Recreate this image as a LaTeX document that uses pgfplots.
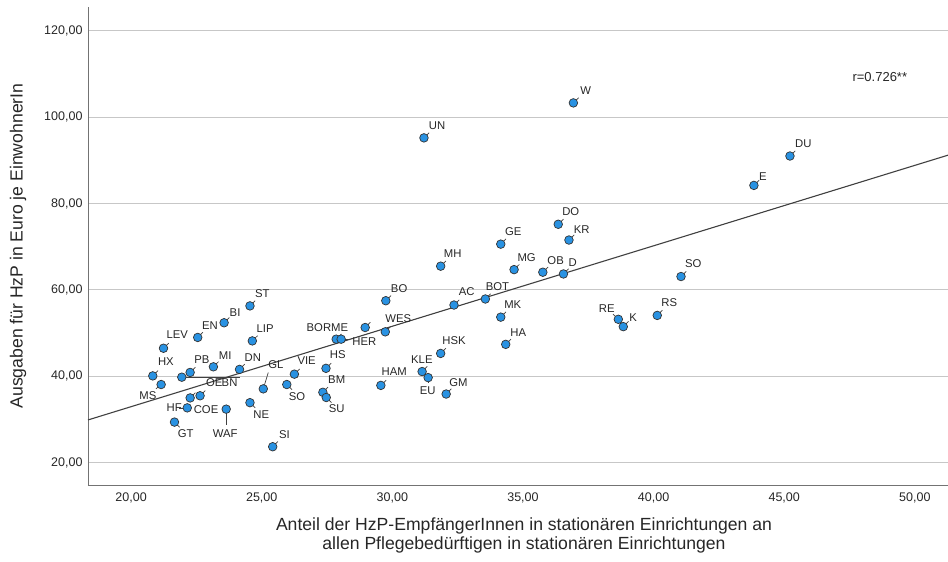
\documentclass[border=0pt]{standalone}
\usepackage{fontspec}
\setmainfont{Liberation Sans}
\usepackage{pgfplots}
\usepackage{pgfplotstable}
\pgfplotsset{compat=1.18}
\definecolor{dot}{RGB}{41,146,226}

\pgfplotstableread{
x y u v
24.55 56.3 0.2 1.2
23.56 52.4 0.2 1.2
22.55 49.0 0.2 1.2
24.64 48.2 0.2 1.2
21.24 46.5 0.2 1.2
23.15 42.2 0.2 1.2
24.15 41.6 0.2 1.2
22.26 40.9 0.2 1.2
20.83 40.1 0.2 1.2
21.94 39.8 2.23 0
21.15 38.1 -0.2 -1.0
22.26 35.0 0.2 1.2
22.64 35.5 0.2 1.2
22.15 32.7 -0.3 0
23.64 32.4 0 -3.7
21.66 29.4 0.2 -1.2
25.06 37.1 0.19 3.77
24.55 33.9 0.2 -1.2
26.25 40.5 0.2 1.2
25.96 38.1 0.2 -1.2
25.42 23.7 0.2 1.2
27.85 48.6 0.2 1.2
28.04 48.6 0.3 0
28.96 51.3 0.2 1.2
29.73 50.3 0.2 1.2
27.46 41.85 0.2 1.2
27.34 36.3 0.2 1.2
27.47 35.1 0.2 -1.2
29.56 37.9 0.2 1.2
31.14 41.1 0.2 1.2
31.37 39.7 0 -1.3
31.85 45.3 0.2 1.2
32.06 35.9 0.2 1.2
36.35 75.2 0.2 1.2
36.76 71.55 0.2 1.2
34.15 70.6 0.2 1.2
31.85 65.5 0.2 1.2
34.66 64.7 0.2 1.2
35.76 64.1 0.2 1.2
36.55 63.7 0.2 1.2
29.75 57.5 0.2 1.2
32.36 56.5 0.2 1.2
33.56 57.9 0.2 1.2
34.15 53.7 0.2 1.2
34.34 47.4 0.2 1.2
36.93 103.3 0.2 1.2
45.22 91.0 0.2 1.2
43.84 84.2 0.2 1.2
41.05 63.1 0.2 1.2
40.14 54.1 0.2 1.2
38.65 53.2 -0.2 1.2
38.84 51.5 0.2 1.2
31.21 95.2 0.2 1.2
}\pts

\begin{document}
\begin{tikzpicture}
\useasboundingbox (0pt,0pt) rectangle (948pt,562pt);
\begin{axis}[
  at={(88pt,77pt)}, anchor=south west,
  scale only axis, width=860pt, height=478pt,
  xmin=18.35, xmax=51.27, ymin=14.84, ymax=125.5,
  clip=false,
  axis x line*=bottom, axis y line*=left,
  axis line style={-, black!55, line width=0.9pt},
  every outer x axis line/.append style={-},
  every outer y axis line/.append style={-},
  every inner x axis line/.append style={-},
  every inner y axis line/.append style={-},
  xtick={20,25,30,35,40,45,50},
  ytick={20,40,60,80,100,120},
  ymajorgrids,
  grid style={black!22, line width=0.9pt},
  major tick length=0pt,
  tick label style={font=\fontsize{12.5}{14}\selectfont, text=black!85},
  /pgf/number format/fixed,
  /pgf/number format/fixed zerofill,
  /pgf/number format/precision=2,
  /pgf/number format/use comma,
  /pgf/number format/1000 sep={},
  /pgf/number format/assume math mode=true,
  xticklabel style={yshift=-4pt},
  yticklabel style={xshift=-2pt},
  xlabel={Anteil der HzP-EmpfängerInnen in stationären Einrichtungen an\\allen Pflegebedürftigen in stationären Einrichtungen},
  xlabel style={at={(rel axis cs:0.507,0)}, anchor=north, yshift=-29pt, align=center,
    font=\fontsize{17.6}{19}\selectfont, text=black!85},
  ylabel={Ausgaben für HzP in Euro je EinwohnerIn},
  ylabel style={at={(rel axis cs:-0.0814,0.5)}, anchor=center,
    font=\fontsize{17.6}{19}\selectfont, text=black!85},
]
\addplot[black!75, line width=1.1pt] coordinates {(18.35,29.9) (51.27,91.2)};
\addplot[quiver={u=\thisrow{u}, v=\thisrow{v}}, -, black!75, line width=0.7pt] table[x=x, y=y] {\pts};
\addplot[only marks, mark=*, mark size=4.3pt,
  mark options={fill=dot, draw=black!80, line width=0.7pt}] table[x=x, y=y] {\pts};

\begin{scope}[every node/.style={font=\fontsize{11.3}{12}\selectfont, inner sep=0pt, text=black!85}]
\node at (axis cs:25.02,59.21) {ST};
\node at (axis cs:23.98,54.81) {BI};
\node at (axis cs:23.02,51.71) {EN};
\node at (axis cs:25.13,51.11) {LIP};
\node at (axis cs:21.77,49.72) {LEV};
\node at (axis cs:21.33,43.38) {HX};
\node at (axis cs:22.71,43.77) {PB};
\node at (axis cs:23.60,44.70) {MI};
\node at (axis cs:24.66,44.40) {DN};
\node at (axis cs:25.54,42.62) {GL};
\node at (axis cs:23.18,38.52) {OE};
\node at (axis cs:23.77,38.52) {BN};
\node at (axis cs:20.64,35.44) {MS};
\node at (axis cs:21.65,32.73) {HF};
\node at (axis cs:22.87,32.36) {COE};
\node at (axis cs:22.09,26.64) {GT};
\node at (axis cs:23.60,26.64) {WAF};
\node at (axis cs:24.98,31.20) {NE};
\node at (axis cs:25.87,26.41) {SI};
\node at (axis cs:26.35,35.21) {SO};
\node at (axis cs:27.19,51.34) {BOR};
\node at (axis cs:27.98,51.34) {ME};
\node at (axis cs:28.93,48.01) {HER};
\node at (axis cs:27.91,45.09) {HS};
\node at (axis cs:26.72,43.54) {VIE};
\node at (axis cs:27.87,39.14) {BM};
\node at (axis cs:27.87,32.59) {SU};
\node at (axis cs:30.07,41.00) {HAM};
\node at (axis cs:31.13,43.77) {KLE};
\node at (axis cs:31.35,36.76) {EU};
\node at (axis cs:32.53,38.61) {GM};
\node at (axis cs:32.36,48.24) {HSK};
\node at (axis cs:30.23,53.43) {WES};
\node at (axis cs:30.26,60.21) {BO};
\node at (axis cs:32.85,59.58) {AC};
\node at (axis cs:34.02,60.74) {BOT};
\node at (axis cs:34.61,56.50) {MK};
\node at (axis cs:34.82,50.09) {HA};
\node at (axis cs:32.31,68.47) {MH};
\node at (axis cs:34.63,73.47) {GE};
\node at (axis cs:35.14,67.55) {MG};
\node at (axis cs:36.25,66.76) {OB};
\node at (axis cs:36.90,66.30) {D};
\node at (axis cs:36.83,78.10) {DO};
\node at (axis cs:37.25,74.03) {KR};
\node at (axis cs:37.40,106.04) {W};
\node at (axis cs:31.71,97.94) {UN};
\node at (axis cs:45.73,93.94) {DU};
\node at (axis cs:44.18,86.20) {E};
\node at (axis cs:41.52,66.00) {SO};
\node at (axis cs:40.60,57.13) {RS};
\node at (axis cs:38.21,55.65) {RE};
\node at (axis cs:39.22,53.66) {K};
\end{scope}
\node[font=\fontsize{13}{15}\selectfont, text=black!85] at (axis cs:48.66,109.28) {r=0.726**};
\end{axis}
\end{tikzpicture}
\end{document}
